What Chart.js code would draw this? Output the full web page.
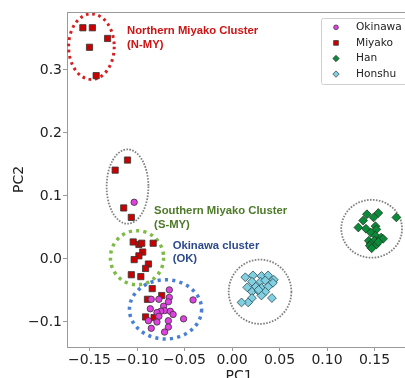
<!DOCTYPE html>
<html>
<head>
<meta charset="utf-8">
<script src="https://cdn.jsdelivr.net/npm/chart.js@4.4.0/dist/chart.umd.min.js"></script>
<style>
  html, body { margin: 0; padding: 0; background: #fff; overflow: hidden; }
  #wrap { width: 405px; height: 378px; overflow: hidden; }
</style>
</head>
<body>
<div id="wrap"><canvas id="chart" width="412" height="378"></canvas></div>
<script>
// PCA scores
const okinawaPC1 = [-0.103, -0.066, -0.066, -0.077, -0.085, -0.041, -0.067, -0.072, -0.086, -0.071, -0.065,
                    -0.075, -0.079, -0.062, -0.077, -0.051, -0.067, -0.088, -0.079, -0.067, -0.085, -0.071];
const okinawaPC2 = [0.090, -0.049, -0.061, -0.064, -0.064, -0.065, -0.068, -0.075, -0.079, -0.082, -0.083,
                    -0.083, -0.085, -0.088, -0.091, -0.095, -0.098, -0.098, -0.100, -0.108, -0.110, -0.116];

const miyakoPC1 = [-0.157, -0.147, -0.131, -0.150, -0.143, -0.110, -0.123, -0.114, -0.106, -0.104, -0.098,
                   -0.095, -0.083, -0.094, -0.098, -0.103, -0.088, -0.091, -0.106, -0.096, -0.084, -0.089,
                   -0.074, -0.091, -0.082];
const miyakoPC2 = [0.367, 0.367, 0.350, 0.336, 0.291, 0.157, 0.141, 0.081, 0.066, 0.027, 0.023,
                   0.025, 0.025, 0.011, 0.005, -0.001, -0.008, -0.015, -0.025, -0.028, -0.047, -0.064,
                   -0.058, -0.092, -0.093];

const hanPC1 = [0.142, 0.154, 0.149, 0.173, 0.138, 0.133, 0.141, 0.151, 0.152, 0.146,
                0.151, 0.157, 0.144, 0.150, 0.146, 0.152, 0.159, 0.145, 0.147, 0.154];
const hanPC2 = [0.071, 0.073, 0.066, 0.066, 0.061, 0.050, 0.048, 0.052, 0.047, 0.042,
                0.037, 0.034, 0.029, 0.029, 0.024, 0.023, 0.032, 0.021, 0.017, 0.027];

const honshuPC1 = [0.014, 0.022, 0.031, 0.038, 0.044, 0.021, 0.030, 0.035, 0.043, 0.016, 0.025,
                   0.031, 0.038, 0.021, 0.028, 0.035, 0.031, 0.021, 0.042, 0.017, 0.010, 0.028];
const honshuPC2 = [-0.029, -0.026, -0.027, -0.026, -0.033, -0.036, -0.036, -0.034, -0.038, -0.045, -0.044,
                   -0.046, -0.044, -0.052, -0.051, -0.052, -0.058, -0.062, -0.062, -0.069, -0.069, -0.049];

// Tick labels
const xTicks = [-0.15, -0.10, -0.05, 0.00, 0.05, 0.10, 0.15];
const yTicks = [-0.1, 0.0, 0.1, 0.2, 0.3];

// Cluster outlines (centre + half axes, in PC units)
const ringPC1 = [-0.148, -0.110, -0.100, -0.070, 0.0295, 0.147];
const ringPC2 = [0.337, 0.115, 0.002, -0.080, -0.052, 0.048];
const ringRx = [0.024, 0.022, 0.028, 0.038, 0.033, 0.032];
const ringRy = [0.052, 0.059, 0.043, 0.047, 0.051, 0.046];
const ringColors = ["#d42020", "#808080", "#7dbb44", "#4a7fd6", "#808080", "#808080"];
const ringWidths = [3, 1.8, 3.5, 3.5, 1.8, 1.8];

// Cluster captions
const captionText = [["Northern Miyako Cluster", "(N-MY)"], ["Southern Miyako Cluster", "(S-MY)"], ["Okinawa cluster", "(OK)"]];
const captionPC1 = [-0.1105, -0.082, -0.0625];
const captionPC2 = [0.362, 0.076, 0.021];
const captionColors = ["#cc1414", "#4e7a2a", "#2c4a8c"];

const AXIS_FONT = "DejaVu Sans";

function toPoints(xs, ys) {
    return xs.map((x, i) => ({ x: x, y: ys[i] }));
}

function fmt(v, d) {
    return v.toFixed(d).replace("-", "\u2212");
}

// Marker drawing shared by legend
function drawMarker(ctx, style, x, y, r) {
    ctx.beginPath();
    if (style === "circle") {
        ctx.arc(x, y, r, 0, Math.PI * 2);
    } else if (style === "rect") {
        ctx.rect(x - r, y - r, 2 * r, 2 * r);
    } else {
        ctx.moveTo(x, y - r);
        ctx.lineTo(x + r, y);
        ctx.lineTo(x, y + r);
        ctx.lineTo(x - r, y);
        ctx.closePath();
    }
    ctx.fill();
    ctx.stroke();
}

const ringsPlugin = {
    id: "rings",
    beforeDatasetsDraw(chart) {
        const { ctx, scales: { x, y } } = chart;
        ctx.save();
        ringPC1.forEach((cx, i) => {
            const px = x.getPixelForValue(cx);
            const py = y.getPixelForValue(ringPC2[i]);
            const rx = Math.abs(x.getPixelForValue(cx + ringRx[i]) - px);
            const ry = Math.abs(y.getPixelForValue(ringPC2[i] + ringRy[i]) - py);
            const w = ringWidths[i];
            ctx.strokeStyle = ringColors[i];
            ctx.lineWidth = w;
            ctx.setLineDash(w > 2 ? [w * 0.9, w * 1.2] : [1.6, 1.4]);
            ctx.beginPath();
            ctx.ellipse(px, py, rx, ry, 0, 0, Math.PI * 2);
            ctx.stroke();
        });
        ctx.restore();
    },
    afterDraw(chart) {
        const { ctx, chartArea, scales: { x, y } } = chart;
        ctx.save();

        // top spine
        ctx.strokeStyle = "#9a9a9a";
        ctx.lineWidth = 1;
        ctx.beginPath();
        ctx.moveTo(chartArea.left, chartArea.top + 0.5);
        ctx.lineTo(chartArea.right, chartArea.top + 0.5);
        ctx.stroke();

        // captions
        ctx.font = 'bold 11.3px "Liberation Sans", Arial, sans-serif';
        ctx.textBaseline = "middle";
        ctx.textAlign = "left";
        captionText.forEach((lines, i) => {
            const px = x.getPixelForValue(captionPC1[i]);
            const py = y.getPixelForValue(captionPC2[i]);
            ctx.fillStyle = captionColors[i];
            lines.forEach((t, j) => ctx.fillText(t, px, py + j * 13.6));
        });

        // legend
        const lx = 321, ly = 18;
        ctx.fillStyle = "rgba(255,255,255,0.85)";
        ctx.strokeStyle = "#cfcfcf";
        ctx.lineWidth = 1;
        ctx.beginPath();
        ctx.roundRect(lx + 0.5, ly + 0.5, 100, 66, 2);
        ctx.fill();
        ctx.stroke();
        ctx.font = '10.6px "' + AXIS_FONT + '"';
        chart.data.datasets.forEach((ds, i) => {
            const ry = ly + 9.3 + i * 15.6;
            ctx.fillStyle = ds.backgroundColor;
            ctx.strokeStyle = "#333";
            ctx.lineWidth = 0.7;
            const r = ds.pointStyle === "circle" ? 2.4 : ds.pointStyle === "rect" ? 2.4 : 3.2;
            drawMarker(ctx, ds.pointStyle === "rectRot" ? "diamond" : ds.pointStyle, lx + 15, ry, r);
            ctx.fillStyle = "#222";
            ctx.fillText(ds.label, lx + 35, ry);
        });
        ctx.restore();
    }
};

const tickFont = { family: AXIS_FONT, size: 14 };

new Chart(document.getElementById("chart"), {
    type: "scatter",
    data: {
        datasets: [
            { label: "Okinawa", data: toPoints(okinawaPC1, okinawaPC2), pointStyle: "circle", pointRadius: 3.2,
              backgroundColor: "#e040e0", borderColor: "#333", borderWidth: 0.8 },
            { label: "Miyako", data: toPoints(miyakoPC1, miyakoPC2), pointStyle: "rect", pointRadius: 4.4,
              backgroundColor: "#cc0000", borderColor: "#333", borderWidth: 0.8 },
            { label: "Han", data: toPoints(hanPC1, hanPC2), pointStyle: "rectRot", pointRadius: 4.4,
              backgroundColor: "#0b8a3a", borderColor: "#1e3a22", borderWidth: 0.8 },
            { label: "Honshu", data: toPoints(honshuPC1, honshuPC2), pointStyle: "rectRot", pointRadius: 4.4,
              backgroundColor: "#80d0e2", borderColor: "#2a4a55", borderWidth: 0.8 }
        ]
    },
    options: {
        responsive: false,
        animation: false,
        layout: { autoPadding: false, padding: { top: 12, left: 0, right: 1, bottom: 0 } },
        plugins: { legend: { display: false }, tooltip: { enabled: false } },
        scales: {
            x: {
                type: "linear",
                min: -0.1737,
                max: 0.1884,
                afterBuildTicks: scale => { scale.ticks = xTicks.map(v => ({ value: v })); },
                afterFit: scale => { scale.height = 31; },
                ticks: { font: tickFont, color: "#222", padding: 1, maxRotation: 0, autoSkip: false,
                         callback: v => fmt(v, 2) },
                grid: { drawOnChartArea: false, tickLength: 4, color: "#9a9a9a" },
                border: { color: "#9a9a9a" },
                title: { display: true, text: "PC1", font: tickFont, color: "#222", padding: { top: 0, bottom: -7 } }
            },
            y: {
                type: "linear",
                min: -0.1397,
                max: 0.392,
                afterBuildTicks: scale => { scale.ticks = yTicks.map(v => ({ value: v })); },
                afterFit: scale => { scale.width = 67; },
                ticks: { font: tickFont, color: "#222", padding: 1, autoSkip: false,
                         callback: v => fmt(v, 1) },
                grid: { drawOnChartArea: false, tickLength: 4, color: "#9a9a9a" },
                border: { color: "#9a9a9a" },
                title: { display: true, text: "PC2", font: tickFont, color: "#222", padding: { top: 10.5, bottom: 0 } }
            }
        }
    },
    plugins: [ringsPlugin]
});
</script>
</body>
</html>
